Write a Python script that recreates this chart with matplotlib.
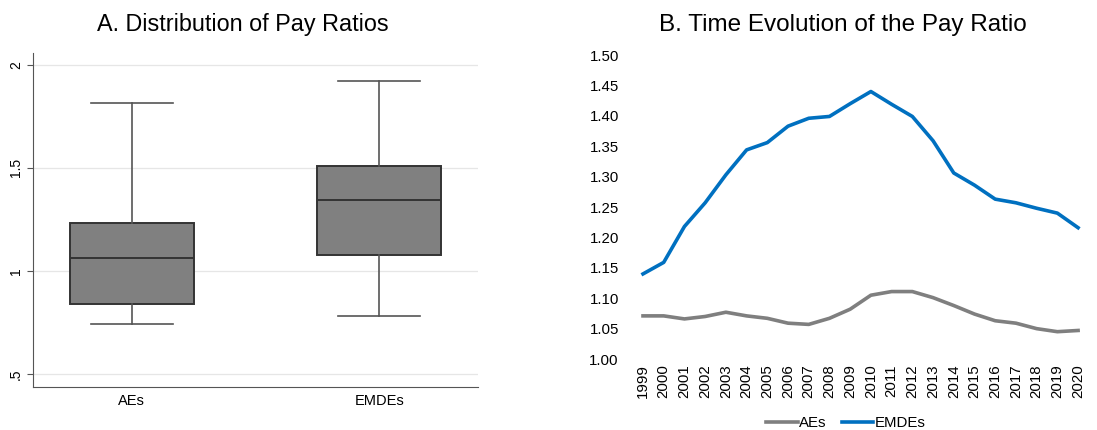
import matplotlib
matplotlib.use("Agg")
import matplotlib.pyplot as plt

plt.rcParams["font.family"] = ["Liberation Sans", "DejaVu Sans"]

# Panel A: box plot summary values
groups = ["AEs", "EMDEs"]
whisker_low = [0.743, 0.782]
q1 = [0.840, 1.078]
median = [1.063, 1.346]
q3 = [1.233, 1.510]
whisker_high = [1.816, 1.922]
box_ticks = [0.5, 1, 1.5, 2]
box_tick_labels = [".5", "1", "1.5", "2"]

# Panel B: time series
years = list(range(1999, 2021))
aes = [1.071, 1.071, 1.066, 1.070, 1.077, 1.071, 1.067, 1.059, 1.057, 1.067,
       1.082, 1.105, 1.111, 1.111, 1.101, 1.088, 1.074, 1.063, 1.059, 1.050,
       1.045, 1.047]
emdes = [1.140, 1.159, 1.218, 1.257, 1.303, 1.344, 1.356, 1.383, 1.396, 1.399,
         1.420, 1.440, 1.419, 1.399, 1.359, 1.306, 1.286, 1.263, 1.257, 1.248,
         1.240, 1.216]
line_ticks = [1.00, 1.05, 1.10, 1.15, 1.20, 1.25, 1.30, 1.35, 1.40, 1.45, 1.50]

fig = plt.figure(figsize=(10.97, 4.30), dpi=100)

# ---- Panel A ----
ax1 = fig.add_axes([0.030, 0.100, 0.406, 0.777])
stats = []
for i, g in enumerate(groups):
    stats.append({"label": g, "whislo": whisker_low[i], "q1": q1[i], "med": median[i],
                  "q3": q3[i], "whishi": whisker_high[i], "fliers": []})
ax1.bxp(stats, positions=[1, 2], widths=0.5, patch_artist=True, showfliers=False,
        boxprops=dict(facecolor="#808080", edgecolor="#333333", linewidth=1.4),
        medianprops=dict(color="#333333", linewidth=1.4),
        whiskerprops=dict(color="#555555", linewidth=1.2),
        capprops=dict(color="#555555", linewidth=1.2),
        capwidths=0.33)
ax1.set_xlim(0.6, 2.4)
ax1.set_ylim(0.437, 2.058)
ax1.set_yticks(box_ticks)
ax1.set_yticklabels(box_tick_labels, rotation=90, va="center")
ax1.yaxis.grid(True, color="#e6e6e6", linewidth=0.9)
ax1.set_axisbelow(True)
for s in ["top", "right"]:
    ax1.spines[s].set_visible(False)
for s in ["left", "bottom"]:
    ax1.spines[s].set_color("#555555")
ax1.tick_params(axis="y", length=4, color="#555555", labelsize=10, pad=3)
ax1.tick_params(axis="x", length=0, labelsize=10.5, pad=5)
fig.text(243 / 1097, 1 - 25 / 430, "A. Distribution of Pay Ratios",
         ha="center", va="center", fontsize=16.8)

# ---- Panel B ----
ax2 = fig.add_axes([0.5767, 0.165, 0.4155, 0.707])
ax2.plot(years, aes, color="#7f7f7f", linewidth=2.6, label="AEs")
ax2.plot(years, emdes, color="#0070c0", linewidth=2.6, label="EMDEs")
ax2.set_xlim(1998.5, 2020.5)
ax2.set_ylim(1.0, 1.5)
ax2.set_yticks(line_ticks)
ax2.set_yticklabels(["{:.2f}".format(t) for t in line_ticks])
ax2.set_xticks(years)
ax2.set_xticklabels([str(y) for y in years], rotation=90)
for s in ax2.spines.values():
    s.set_visible(False)
ax2.tick_params(axis="both", length=0, labelsize=10.8)
ax2.tick_params(axis="y", pad=10)
ax2.tick_params(axis="x", pad=4)
ax2.legend(loc="center", bbox_to_anchor=(846 / 1097, 1 - 423 / 430),
           bbox_transform=fig.transFigure, ncol=2, frameon=False, fontsize=10.8,
           handlelength=2.1, handletextpad=0.1, columnspacing=1.0)
fig.text(843 / 1097, 1 - 25 / 430, "B. Time Evolution of the Pay Ratio",
         ha="center", va="center", fontsize=17.5)

fig.savefig("out.png", dpi=100)
